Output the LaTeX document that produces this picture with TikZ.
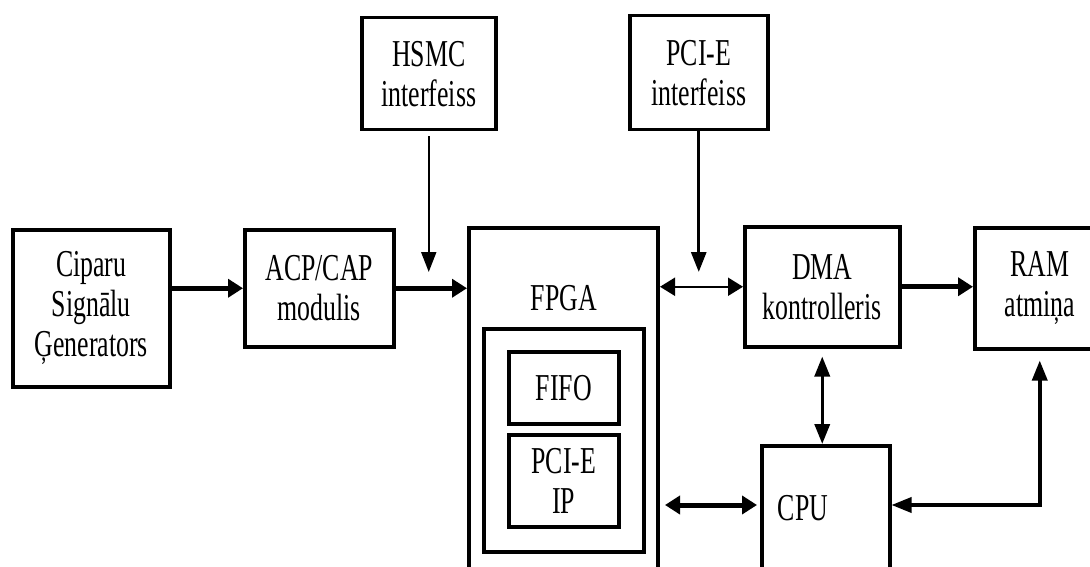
\documentclass[tikz,border=0pt]{standalone}
\usepackage{fontspec}
\setmainfont[FakeStretch=0.68]{Liberation Serif}
\usetikzlibrary{arrows.meta}
\newcommand\lbl{\fontsize{38}{40}\selectfont}
\tikzset{
  hd/.tip={Triangle[length=15pt,width=18pt]},
  hdlong/.tip={Triangle[length=20pt,width=15pt]},
  blk/.style={draw, line width=3.5pt, anchor=north west, inner sep=0pt,
              align=center, font=\lbl},
  txt/.style={font=\lbl, inner sep=0pt},
  heavy/.style={line width=5pt},
  medium/.style={line width=3.5pt},
  light/.style={line width=2pt},
}
\begin{document}
\begin{tikzpicture}[x=1pt,y=-1pt]
\useasboundingbox (0,0) rectangle (1090,567);
\fill[white] (0,0) rectangle (1090,567);
\clip (0,0) rectangle (1090,567);

% blocks
\node[blk, minimum width=157pt, minimum height=157pt] (gen) at (11,228) {Ciparu\\Signālu\\Ģenerators};
\node[blk, minimum width=149pt, minimum height=117pt] (acp) at (243,228) {ACP/CAP\\modulis};
\node[blk, minimum width=134pt, minimum height=112pt] (hsmc) at (360,16) {HSMC\\interfeiss};
\node[blk, minimum width=138pt, minimum height=114pt] (pcie) at (628,14) {PCI-E\\interfeiss};
\node[blk, line width=4pt, minimum width=189pt, minimum height=360pt] (fpga) at (467,226) {};
\node[txt] (fpgatxt) at (564,298) {FPGA};
\node[blk, minimum width=160pt, minimum height=223pt] (core) at (482,327) {};
\node[blk, minimum width=110pt, minimum height=72pt] (fifo) at (507,350) {FIFO};
\node[blk, minimum width=110pt, minimum height=92pt] (pip) at (507,433) {PCI-E\\IP};
\node[blk, minimum width=155pt, minimum height=120pt] (dma) at (743,225) {DMA\\kontrolleris};
\node[blk, minimum width=130pt, minimum height=121pt] (ram) at (973,226) {RAM\\atmiņa};
\node[blk, minimum width=128pt, minimum height=140pt] (cpu) at (760,444) {};
\node[txt] (cputxt) at (803,508) {CPU};

% reference levels for connectors
\coordinate (tipy) at (0,272);
\coordinate (busy) at (0,505);

% connectors
\draw[heavy, -hd] (gen.east |- acp.west) -- (acp.west);
\draw[heavy, -hd] (acp.east) -- (acp.east -| fpga.west);
\draw[light, -hdlong] ([yshift=-5pt]hsmc.south) -- (hsmc.south |- tipy);
\draw[line width=3pt, -hdlong] (pcie.south) -- (pcie.south |- tipy);
\draw[light, hd-hd] (fpga.east |- dma.west) -- (dma.west);
\draw[heavy, -hd] (dma.east) -- (dma.east -| ram.west);
\draw[medium, hdlong-hdlong] ([yshift=-8pt]dma.south) -- (dma.south |- cpu.north);
\draw[heavy, hd-hd] ([xshift=5pt]fpga.east |- busy) -- ([xshift=-3pt]cpu.west |- busy);
\draw[medium, hdlong-hdlong] ([yshift=-10pt]ram.south) |- (cpu.east |- busy);
\end{tikzpicture}
\end{document}
